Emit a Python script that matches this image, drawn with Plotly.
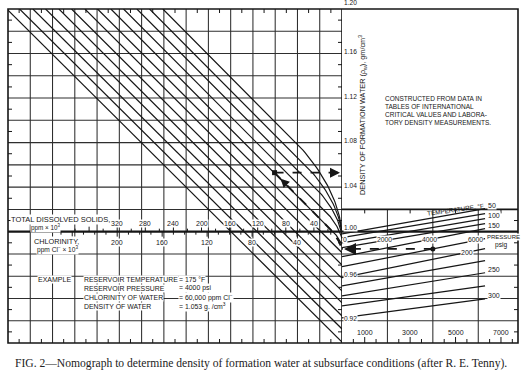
import numpy as np
import plotly.graph_objects as go

DENSITY_RANGE = [0.90, 1.20]                      # g/cm3, vertical scale
DENSITY_LABELS = [1.20, 1.16, 1.12, 1.08, 1.04, 1.00, 0.96, 0.92]
TDS_LABELS = [320, 280, 240, 200, 160, 120, 80, 40]   # ppm x 10^3
CL_LABELS = [200, 160, 120, 80, 40]                   # ppm Cl- x 10^3
CL_TO_TDS = 1.6                                       # chlorinity -> TDS scale factor
DIAG_SLOPE = 0.000631                                 # density per ppm x 10^3 along diagonals
# diagonal family: TDS where straight part meets 1.00, and density where line reaches the axis
DIAG_TDS_AT_UNITY = [160, 142, 123, 105, 86, 68, 49, 31, 12, -6, -25, -43, -62]
DIAG_END_DENSITY = [0.9009, 0.9126, 0.9243, 0.9360, 0.9468, 0.9586, 0.9703,
                    0.9811, 0.9883, 0.9937, 0.9964, 0.9982, 0.9991]
# temperature lines (right panel): density at 0 psig and at the end of the line
TEMP_F = [50, 75, 100, 125, 150, 175, 200, 225, 250, 275, 300]
RHO_ZERO_PSIG = [0.9980, 0.9946, 0.9900, 0.9856, 0.9775, 0.9685, 0.9586, 0.9514, 0.9423, 0.9333, 0.9225]
RHO_END_PSIG = [1.0207, 1.0162, 1.0117, 1.0072, 1.0027, 0.9937, 0.9847, 0.9739, 0.9631, 0.9514, 0.9396]
LINE_END_PSIG = 6300
TEMP_LABELS = [50, 100, 150, 250, 300]
TEMP_MID_LABEL = 200
P_LABELS_TOP = [0, 2000, 4000, 6000]
P_LABELS_BOTTOM = [1000, 3000, 5000, 7000]
# worked example
EX_TEMP_F = 175
EX_PRESSURE = 4000
EX_CL = 60
EX_DENSITY = 1.053
EXAMPLE_ROWS = [("RESERVOIR TEMPERATURE", "= 175 °F"),
                ("RESERVOIR PRESSURE", "= 4000 psi"),
                ("CHLORINITY OF WATER", "= 60,000 ppm Cl<sup>−</sup>"),
                ("DENSITY OF WATER", "= 1.053 g. /cm<sup>3</sup>")]
NOTE_LINES = ["CONSTRUCTED FROM DATA IN", "TABLES OF INTERNATIONAL",
              "CRITICAL VALUES AND LABORA-", "TORY DENSITY MEASUREMENTS."]
CAPTION = "FIG. 2—Nomograph to determine density of formation water at subsurface conditions (after R. E. Tenny)."

# ---------------- layout geometry ----------------
W, H = 525, 380
ML, MR, MT, MB = 8, 7, 9, 37
PW, PH = W - ML - MR, H - MT - MB          # 510 x 334
LEFT_W = PH                                 # square left panel
SPLIT = LEFT_W / PW
D0, D1 = DENSITY_RANGE
TDS_MAX = (D1 - D0) / DIAG_SLOPE
P_MAX = 7750
PX_D = (D1 - D0) / PH                       # density per pixel
PX_T = TDS_MAX / LEFT_W                     # TDS per pixel
PX_P = P_MAX / (PW - LEFT_W)                # psi per pixel
GRID = 0.02
NCELL = int(round((D1 - D0) / GRID))
CELL_T = TDS_MAX / NCELL

def dpx(y):   # pixel row -> density
    return D1 - (y - MT) * PX_D

def tpx(x):   # pixel column -> TDS
    return (ML + LEFT_W - x) * PX_T

def ppx(x):   # pixel column -> psig
    return (x - ML - LEFT_W) * PX_P

INK = "#161616"
GRIDC = "#2e2e2e"
FONT = "Liberation Sans"
FS = 7

fig = go.Figure()
shapes = []

def seg(xref, x0, y0, x1, y1, w=1.05, color=GRIDC, dash=None, layer="below"):
    ln = dict(color=color, width=w)
    if dash:
        ln["dash"] = dash
    shapes.append(dict(type="line", xref=xref, yref="y", x0=x0, y0=y0, x1=x1, y1=y1,
                       line=ln, layer=layer))

# left panel grid
for k in range(1, NCELL):
    seg("x", k * CELL_T, D0, k * CELL_T, D1)
    d = D0 + k * GRID
    if abs(d - 1.0) > 1e-6:
        seg("x", TDS_MAX, d, 0, d)
# right lower grid
for p in [2000, 4000, 6000]:
    seg("x2", p, D0, p, 1.02)
for d in [0.92, 0.94, 0.96, 0.98]:
    seg("x2", 0, d, P_MAX, d)
# heavy lines
seg("x", TDS_MAX, 1.0, 0, 1.0, w=2.4, color=INK, layer="above")
seg("x2", 0, 1.0, P_MAX, 1.0, w=2.2, color=INK, layer="above")
seg("x2", 0, 1.02, P_MAX, 1.02, w=1.6, color=INK, layer="above")
seg("x", 0, D0, 0, D1, w=1.6, color=INK, layer="above")
shapes.append(dict(type="rect", xref="paper", yref="paper", x0=0, x1=1, y0=0, y1=1,
                   line=dict(color=INK, width=1.6), layer="above"))

# small ticks
TL = 4
for k in range(NCELL):
    t = (k + 0.5) * CELL_T
    seg("x", t, D1, t, D1 - TL * PX_D, w=1, color=INK)
    seg("x", t, D0, t, D0 + TL * PX_D, w=1, color=INK)
    d = D0 + (k + 0.5) * GRID
    seg("x", TDS_MAX, d, TDS_MAX - TL * PX_T, d, w=1, color=INK)
    seg("x", 0, d, TL * PX_T, d, w=1, color=INK)
for p in np.arange(500, P_MAX, 500):
    if p % 2000:
        seg("x2", p, D0, p, D0 + (TL + (2 if p % 1000 == 0 else 0)) * PX_D, w=1, color=INK)
for p in [1000, 3000, 5000, 7000]:
    seg("x2", p, 1.02, p, 1.02 - TL * PX_D, w=1, color=INK)
for d in np.arange(0.91, 1.02, 0.02):
    seg("x2", P_MAX, d, P_MAX - TL * PX_P, d, w=1, color=INK)
# TDS scale ticks (above the 1.00 line) and chlorinity ticks (below)
for t in range(20, 400, 20):
    ln = 5 if t % 40 == 0 else 3
    seg("x", t, 1.0, t, 1.0 + ln * PX_D, w=1, color=INK, layer="above")
for c in range(10, 260, 10):
    ln = 5 if c % 40 == 0 else 3
    seg("x", c * CL_TO_TDS, 1.0, c * CL_TO_TDS, 1.0 - ln * PX_D, w=1, color=INK, layer="above")


# ---------------- diagonal family ----------------
def diag_path(t_unity, d_end, tds_from=None):
    s = DIAG_SLOPE
    t_top = t_unity + (D1 - 1.0) / s
    t0 = min(t_top, TDS_MAX) if tds_from is None else tds_from
    d_start = 1.0 + s * (t0 - t_unity)
    tc = 6.0
    dc = 1.0 + s * (tc - t_unity)
    drop = dc - d_end
    if drop <= 0.002:
        return [t0, 0.0], [d_start, d_end]
    lift = min(drop, 0.05)
    dp = dc + lift
    tp = t_unity + (dp - 1.0) / s
    u = np.linspace(0, 1, 40)
    bx = (1 - u) ** 2 * tp + 2 * (1 - u) * u * tc
    by = (1 - u) ** 2 * dp + 2 * (1 - u) * u * dc + u ** 2 * d_end
    return [t0] + list(bx), [d_start] + list(by)

for tu, de in zip(DIAG_TDS_AT_UNITY, DIAG_END_DENSITY):
    xs, ys = diag_path(tu, de)
    fig.add_trace(go.Scatter(x=xs, y=ys, mode="lines", xaxis="x", yaxis="y",
                             line=dict(color=INK, width=1.2), hoverinfo="skip", showlegend=False))

# ---------------- temperature lines ----------------
for tf, r0, r1 in zip(TEMP_F, RHO_ZERO_PSIG, RHO_END_PSIG):
    fig.add_trace(go.Scatter(x=[0, LINE_END_PSIG], y=[r0, r1], mode="lines", xaxis="x2", yaxis="y",
                             line=dict(color=INK, width=1.25), hoverinfo="skip", showlegend=False))

# ---------------- worked example ----------------
i_ex = TEMP_F.index(EX_TEMP_F)
rho_ex = RHO_ZERO_PSIG[i_ex] + (RHO_END_PSIG[i_ex] - RHO_ZERO_PSIG[i_ex]) * EX_PRESSURE / LINE_END_PSIG
fig.add_trace(go.Scatter(x=[EX_PRESSURE, 0], y=[rho_ex, rho_ex], mode="lines", xaxis="x2", yaxis="y",
                         line=dict(color=INK, width=1.8, dash="dash"), hoverinfo="skip", showlegend=False))
fig.add_trace(go.Scatter(x=[EX_PRESSURE], y=[rho_ex], mode="markers", xaxis="x2", yaxis="y",
                         marker=dict(color=INK, size=5), hoverinfo="skip", showlegend=False))
t_ex = EX_CL * CL_TO_TDS
t_unity_ex = t_ex - (EX_DENSITY - 1.0) / DIAG_SLOPE
xs, ys = diag_path(t_unity_ex, rho_ex, tds_from=t_ex)
fig.add_trace(go.Scatter(x=xs, y=ys, mode="lines", xaxis="x", yaxis="y",
                         line=dict(color=INK, width=1.8, dash="dash"), hoverinfo="skip", showlegend=False))
fig.add_trace(go.Scatter(x=[t_ex, 0], y=[EX_DENSITY, EX_DENSITY], mode="lines", xaxis="x", yaxis="y",
                         line=dict(color=INK, width=1.6, dash="dash"), hoverinfo="skip", showlegend=False))
fig.add_trace(go.Scatter(x=[t_ex], y=[EX_DENSITY], mode="markers", xaxis="x", yaxis="y",
                         marker=dict(color=INK, size=5, symbol="square"), hoverinfo="skip", showlegend=False))

ann = []
def arrow(xref, x, y, ax, ay, size=1.1, width=2):
    ann.append(dict(xref=xref, yref="y", axref=xref, ayref="y", x=x, y=y, ax=ax, ay=ay,
                    text="", showarrow=True, arrowhead=2, arrowsize=size, arrowwidth=width,
                    arrowcolor=INK))

arrow("x2", 2 * PX_P, rho_ex, 14 * PX_P, rho_ex, size=1.0, width=2.4)
arrow("x", 2 * PX_T, EX_DENSITY, 12 * PX_T, EX_DENSITY, size=1.0, width=2)
ta, tb = t_ex - 6 * PX_T, t_ex - 13 * PX_T
arrow("x", ta, 1.0 + DIAG_SLOPE * (ta - t_unity_ex), tb, 1.0 + DIAG_SLOPE * (tb - t_unity_ex),
      size=0.8, width=2.2)

# ---------------- text ----------------
def txt(xref, x, y, s, size=FS, xa="center", ya="middle", bg=None, angle=0, align="center",
        family=FONT, yref="y", xshift=0):
    a = dict(xref=xref, yref=yref, x=x, y=y, text=s, showarrow=False, xanchor=xa, yanchor=ya,
             font=dict(family=family, size=size, color=INK), textangle=angle, align=align,
             xshift=xshift)
    if bg:
        a["bgcolor"] = bg
        a["borderpad"] = 0
    ann.append(a)

for d in DENSITY_LABELS:
    if d == 1.0:
        txt("x2", 1.2 * PX_P, d, f"{d:.2f}", xa="left", ya="bottom", bg="white", size=6.6)
    elif d == D1:
        txt("x2", 1.2 * PX_P, (MT - 3) / PH + 1.0, f"{d:.2f}", xa="left", bg="white",
            size=6.6, yref="paper")
    else:
        txt("x2", 1.2 * PX_P, d + 2 * PX_D, f"{d:.2f}", xa="left", bg="white", size=6.6)
txt("x2", ppx(362), dpx(115), "DENSITY OF FORMATION WATER (ρ<sub>w</sub>), gm/cm<sup>3</sup>",
    angle=-90, size=7.3)
for i, line in enumerate(NOTE_LINES):
    txt("x2", ppx(383), dpx(98 + 8 * i), line, xa="left", size=6.5)

for t in TDS_LABELS:
    txt("x", t, dpx(223), str(t), bg="white")
for c in CL_LABELS:
    txt("x", c * CL_TO_TDS, dpx(242), str(c), bg="white")
txt("x", tpx(10), dpx(219.5), "TOTAL DISSOLVED SOLIDS,", xa="left", bg="white", size=7.5)
txt("x", tpx(45), dpx(227.5), "ppm × 10<sup>3</sup>", size=6.3, bg="white")
txt("x", tpx(56), dpx(241), "CHLORINITY,", bg="white", size=7.3)
txt("x", tpx(57), dpx(249.5), "ppm Cl<sup>−</sup> × 10<sup>3</sup>", size=6.6, bg="white")

txt("x", tpx(37), dpx(279), "EXAMPLE", xa="left", bg="white", size=7.0)
for i, (lab, val) in enumerate(EXAMPLE_ROWS):
    y = dpx(279 + 9 * i)
    txt("x", tpx(83), y, lab, xa="left", bg="white", size=6.9)
    txt("x", tpx(178), y, val, xa="left", bg="white", size=6.9)

for p in P_LABELS_TOP:
    txt("x2", max(p, 2.5 * PX_P), dpx(239), str(p), bg="white", xshift=(0 if p == 0 else -3),
        size=6.8)
for p in P_LABELS_BOTTOM:
    txt("x2", p, dpx(332), str(p), bg="white")
txt("x2", ppx(503), dpx(237), "PRESSURE", bg="white", size=6.0)
txt("x2", ppx(501), dpx(245), "psig", bg="white", size=6.6)
txt("x2", ppx(455), dpx(209.5), "TEMPERATURE, °F", angle=-8, size=6.3)
for tf in TEMP_LABELS:
    i = TEMP_F.index(tf)
    txt("x2", LINE_END_PSIG + 2 * PX_P, RHO_END_PSIG[i] + 3 * PX_D, str(tf), xa="left", bg="white")
i = TEMP_F.index(TEMP_MID_LABEL)
pm = ppx(467)
txt("x2", pm, RHO_ZERO_PSIG[i] + (RHO_END_PSIG[i] - RHO_ZERO_PSIG[i]) * pm / LINE_END_PSIG,
    str(TEMP_MID_LABEL), bg="white")

ann.append(dict(xref="paper", yref="paper", x=(261 - ML) / PW, y=(H - MB - 363) / PH,
                text=CAPTION, showarrow=False, xanchor="center", yanchor="middle",
                font=dict(family="Liberation Serif", size=11.6, color="#222")))

fig.update_layout(
    width=W, height=H, margin=dict(l=ML, r=MR, t=MT, b=MB),
    paper_bgcolor="white", plot_bgcolor="white", showlegend=False,
    xaxis=dict(domain=[0, SPLIT], range=[TDS_MAX, 0], visible=False, fixedrange=True),
    xaxis2=dict(domain=[SPLIT, 1], range=[0, P_MAX], visible=False, fixedrange=True, anchor="y"),
    yaxis=dict(range=DENSITY_RANGE, visible=False, fixedrange=True),
    shapes=shapes, annotations=ann,
)
fig.write_html("out.html", config={"displayModeBar": False},
               post_script="document.body.style.margin='0px';document.body.style.overflow='hidden';")
